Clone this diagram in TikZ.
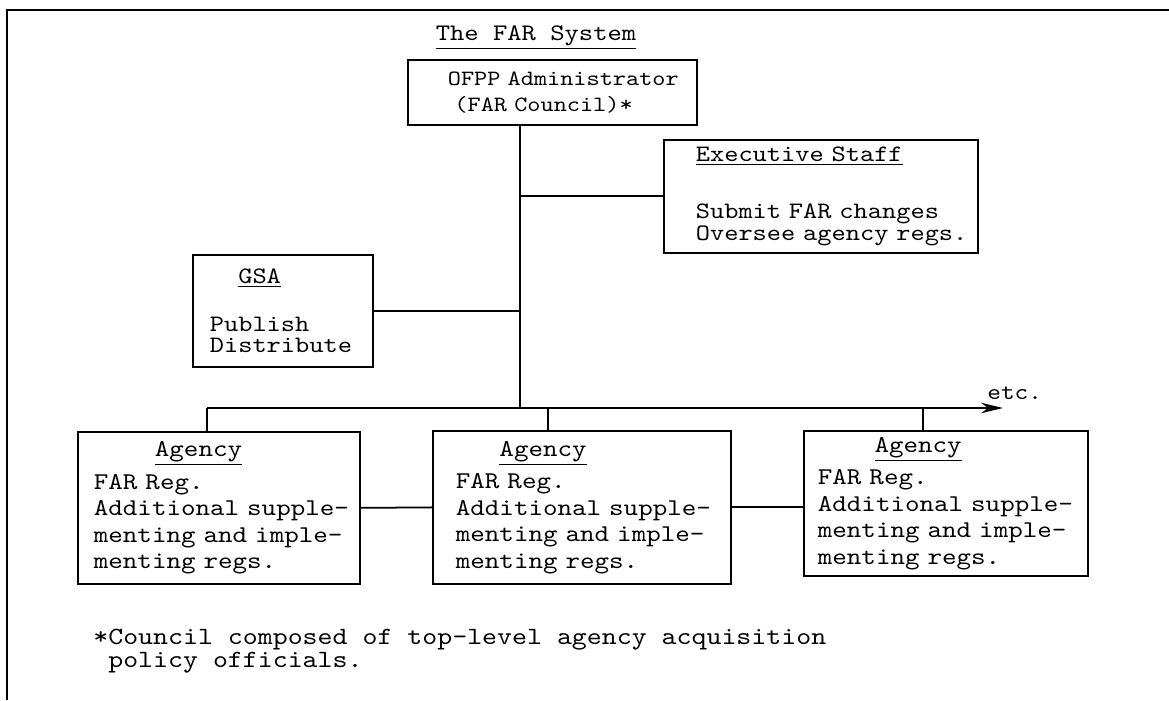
\documentclass[tikz,border=0pt]{standalone}
\usepackage{fontspec}
\usetikzlibrary{arrows.meta}
\newfontfamily\twfont{lmmono10-regular.otf}[FakeStretch=1.15]
\setlength{\lineskiplimit}{-\maxdimen}
% typewriter text: size, line distance, one space as wide as a character
\newcommand{\tw}[2]{\twfont\fontsize{#1}{#2}\selectfont
  \fontdimen2\font=\fontcharwd\font`x \fontdimen3\font=0pt
  \fontdimen4\font=0pt \fontdimen7\font=0pt}
% indent by a number of typewriter characters
\newcommand{\chars}[1]{\hspace*{#1\fontcharwd\font`x}}
\newcommand{\pad}[1]{\setlength{\leftskip}{#1}}
\tikzset{
  farbox/.style={draw, line width=1pt, anchor=north west, inner xsep=0pt, inner ysep=0pt, align=left},
  agencybox/.style={farbox, font=\tw{13.7}{15.1}},
  staffbox/.style={farbox, font=\tw{13.4}{12.3}},
  wire/.style={line width=1pt}
}
\begin{document}
\begin{tikzpicture}[x=0.02cm, y=-0.02cm]
\useasboundingbox (0,0) rectangle (1169,700);
\draw[wire] (7,700) -- (7,10) -- (1169,10);

\node[font=\tw{13.5}{15}, anchor=base] (title) at (536,40) {\underline{The FAR System}};

\node[farbox, font=\tw{12.4}{14.8}, text width=5.78cm, minimum height=1.3cm] (ofpp) at (407,59)
  {\pad{0.8cm}OFPP Administrator\\\chars{0.5}(FAR Council)*\par};

\node[staffbox, text width=6.28cm, minimum height=2.26cm] (exec) at (663,139)
  {\pad{0.64cm}\underline{Executive Staff}\\[0.7cm]
   Submit FAR changes\\Oversee agency regs.\par};

\node[staffbox, text width=3.6cm, minimum height=2.24cm] (gsa) at (192,254)
  {\pad{0.34cm}\chars{2}\underline{GSA}\\[0.52cm]
   Publish\\Distribute\par};

% the three agencies
\node[agencybox, text width=5.64cm, minimum height=3.04cm] (a1) at (77,431)
  {\pad{0.32cm}\chars{4.2}\underline{Agency}\\[0.12cm]
   FAR Reg.\\Additional supple-\\menting and imple-\\menting regs.\par};
\node[agencybox, text width=5.96cm, minimum height=3.06cm] (a2) at (432,430)
  {\pad{0.46cm}\chars{3}\underline{Agency}\\[0.12cm]
   FAR Reg.\\Additional supple-\\menting and imple-\\menting regs.\par};
\node[agencybox, text width=5.68cm, minimum height=2.9cm] (a3) at (803,430)
  {\pad{0.28cm}\chars{3.9}\underline{Agency}\\[0.12cm]
   FAR Reg.\\Additional supple-\\menting and imple-\\menting regs.\par};

\coordinate (bus) at (520,408);
\coordinate (drop1) at (207,408);
\coordinate (drop2) at (548,408);
\coordinate (drop3) at (923,408);
\coordinate (etc) at (1003,408);

\draw[wire] (ofpp.south -| bus) -- (bus);
\draw[wire] (exec.west) -- (exec.west -| bus);
\draw[wire] (gsa.east) -- (gsa.east -| bus);
\draw[wire, -{Stealth[length=0.44cm, width=0.21cm]}] (drop1) -- (etc);
\foreach \i in {1,2,3}
  \draw[wire] (drop\i) -- (drop\i |- a\i.north);
\draw[wire] (a1.east) -- (a2.west);
\draw[wire] (a2.east) -- (a2.east -| a3.west);

\node[font=\tw{12.9}{14}, anchor=base west, inner sep=0pt] (etclabel) at (987,399) {etc.};

\node[font=\tw{14.1}{12.8}, anchor=north west, inner sep=0pt, align=left] (note) at (93,629)
  {*Council composed of top-level agency acquisition\\\chars{1}policy officials.};
\end{tikzpicture}
\end{document}
